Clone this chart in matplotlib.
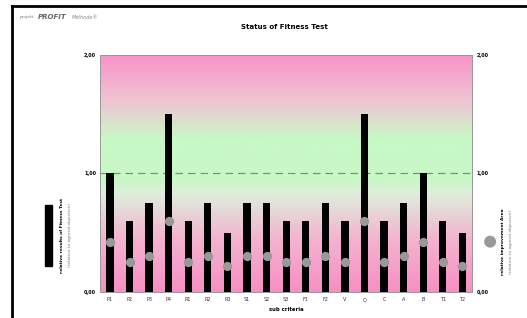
# -*- coding: utf-8 -*-
"""
Status of Fitness Test - Balken mit Verbesserungsbereich.
"""

import matplotlib.pyplot as plt
import numpy as np
from matplotlib.colors import LinearSegmentedColormap
from matplotlib.lines import Line2D
from matplotlib.patches import Rectangle, Ellipse

################## Daten ##################

kategorien = ["P1", "P2", "P3", "P4", "R1", "R2", "R3", "S1", "S2", "S3",
              "F1", "F2", "V", "Q", "C", "A", "B", "T1", "T2"]
resultate = [1.0, 0.6, 0.75, 1.5, 0.6, 0.75, 0.5, 0.75, 0.75, 0.6,
             0.6, 0.75, 0.6, 1.5, 0.6, 0.75, 1.0, 0.6, 0.5]
verbesserung = [0.42, 0.25, 0.3, 0.6, 0.25, 0.3, 0.22, 0.3, 0.3, 0.25,
                0.25, 0.3, 0.25, 0.6, 0.25, 0.3, 0.42, 0.25, 0.22]
y_ticks = [0.0, 1.0, 2.0]
y_labels = ["0,00", "1,00", "2,00"]

################## Plot ##################

fig = plt.figure(figsize=(5.27, 3.18), dpi=100)
ax = fig.add_axes([0.19, 0.082, 0.706, 0.745])

x = np.arange(len(kategorien))
xmin, xmax = -0.5, len(kategorien) - 0.5

# Hintergrund-Verlauf: rosa - gruen - rosa
cmap = LinearSegmentedColormap.from_list(
    "bg",
    [(0.0, "#f78fc4"), (0.22, "#f3b3cf"), (0.42, "#dfeedc"), (0.47, "#c8f8c6"),
     (0.65, "#c8f8c6"), (0.8, "#eec7d3"), (1.0, "#f893c8")],
)
grad = np.linspace(0, 1, 256).reshape(-1, 1)
ax.imshow(grad, cmap=cmap, origin="lower", aspect="auto",
          extent=[xmin, xmax, 0, 2], zorder=0)

ax.bar(x, resultate, width=0.37, color="black", zorder=2)
ax.axhline(1.0, color="#7f8f80", lw=0.9, ls=(0, (6, 4)), zorder=1)
ax.set_xlim(xmin, xmax)
ax.set_ylim(0, 2)

ax2 = ax.twinx()
ax2.set_ylim(0, 2)
ax2.scatter(x, verbesserung, s=32, color="#999999", zorder=3)

for a in (ax, ax2):
    a.set_yticks(y_ticks)
    a.set_yticklabels(y_labels, fontsize=3.5, fontweight="bold")
    a.tick_params(length=0, pad=3)
    for s in a.spines.values():
        s.set_color("#999999")
        s.set_linewidth(0.6)

ax.set_xticks(x)
ax.set_xticklabels(kategorien, fontsize=3.5, color="#333333")
ax.tick_params(axis="x", length=0, pad=4)
ax.set_xlabel("sub criteria", fontsize=3.8, fontweight="bold", labelpad=3)

fig.text(0.54, 0.915, "Status of Fitness Test", ha="center", va="center",
         fontsize=5, fontweight="bold")
fig.text(0.036, 0.945, "projekt", fontsize=3, color="#777777",
         style="italic", va="center")
fig.text(0.072, 0.945, "PROFIT", fontsize=5, color="#666666",
         style="italic", fontweight="bold", va="center")
fig.text(0.136, 0.945, "Methode\u00ae", fontsize=3.5, color="#888888",
         style="italic", va="center")

# Legende links
fig.patches.append(Rectangle((0.085, 0.165), 0.014, 0.19, color="black",
                             transform=fig.transFigure))
fig.text(0.118, 0.26, "relative results of Fitness Test", rotation=90,
         fontsize=3.2, fontweight="bold", ha="center", va="center")
fig.text(0.133, 0.26, "(relative to agreed objective)", rotation=90,
         fontsize=3.2, color="#777777", ha="center", va="center")

# Legende rechts
fig.patches.append(Ellipse((0.93, 0.24), 0.02, 0.033, color="#999999",
                           transform=fig.transFigure))
fig.text(0.955, 0.24, "relative improvement Area", rotation=90,
         fontsize=3.2, fontweight="bold", ha="center", va="center")
fig.text(0.97, 0.24, "(relative to agreed objective)", rotation=90,
         fontsize=3.2, color="#777777", ha="center", va="center")

# Rahmen
fig.lines.append(Line2D([0.023, 1.0], [0.981, 0.981], color="black", lw=2,
                        transform=fig.transFigure))
fig.lines.append(Line2D([0.023, 0.023], [0.0, 0.981], color="black", lw=2,
                        transform=fig.transFigure))

fig.savefig("out.png", dpi=100)
plt.close(fig)
